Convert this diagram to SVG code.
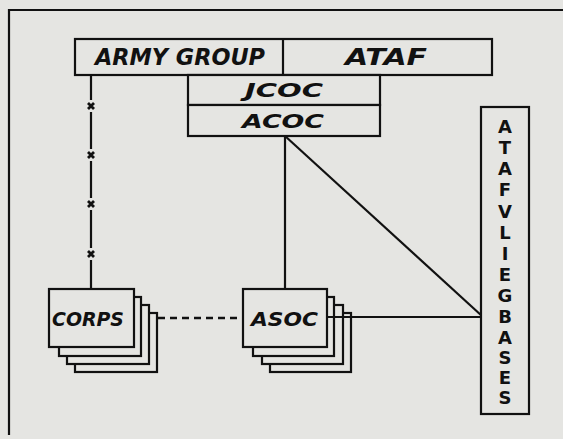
<svg xmlns="http://www.w3.org/2000/svg" width="563" height="439" viewBox="0 0 563 439">
<style>
.bg{fill:#e5e5e2}
.box{fill:#e5e5e2;stroke:#111;stroke-width:2.2}
.ln{fill:none;stroke:#111;stroke-width:2.2}
.dash{fill:none;stroke:#111;stroke-width:2.4;stroke-dasharray:7 5}
.lbl{font-family:"DejaVu Sans",sans-serif;font-weight:bold;font-style:oblique;fill:#111}
.vt{font-family:"DejaVu Sans",sans-serif;font-weight:bold;fill:#111;font-size:18px;text-anchor:middle}
.xm{fill:none;stroke:#111;stroke-width:2.8}
</style>
<rect class="bg" x="0" y="0" width="563" height="439"/>
<g id="frame">
<path class="ln" d="M9,435 V10 H563" stroke-width="2.6"/>
</g>
<g id="connectors">
<path class="ln" d="M91,75 V100 M91,112 V149 M91,161 V198 M91,210 V248 M91,260 V289"/>
<path class="xm" d="M88,103 l6,6 M94,103 l-6,6 M88,152 l6,6 M94,152 l-6,6 M88,201 l6,6 M94,201 l-6,6 M88,251 l6,6 M94,251 l-6,6"/>
<path class="ln" d="M285,136 V289"/>
<path class="ln" d="M285,136 L482,316"/>
<path class="dash" d="M134,318 H243"/>
</g>
<g id="armygroup-ataf">
<rect class="box" x="75" y="39" width="417" height="36"/>
<line class="ln" x1="283" y1="39" x2="283" y2="75"/>
<text class="lbl" x="95" y="65" font-size="23" textLength="170" lengthAdjust="spacingAndGlyphs">ARMY GROUP</text>
<text class="lbl" x="345" y="65" font-size="23" textLength="82" lengthAdjust="spacingAndGlyphs">ATAF</text>
</g>
<g id="jcoc">
<rect class="box" x="188" y="75" width="192" height="30"/>
<text class="lbl" x="245" y="97" font-size="19" textLength="78" lengthAdjust="spacingAndGlyphs">JCOC</text>
</g>
<g id="acoc">
<rect class="box" x="188" y="105" width="192" height="31"/>
<text class="lbl" x="242" y="128" font-size="19" textLength="82" lengthAdjust="spacingAndGlyphs">ACOC</text>
</g>
<g id="corps">
<rect class="box" x="75" y="313" width="82" height="59"/>
<rect class="box" x="67" y="305" width="82" height="59"/>
<rect class="box" x="59" y="297" width="82" height="59"/>
<rect class="box" x="49" y="289" width="85" height="58"/>
<text class="lbl" x="52" y="326" font-size="20" textLength="72" lengthAdjust="spacingAndGlyphs">CORPS</text>
</g>
<g id="asoc">
<rect class="box" x="270" y="313" width="81" height="59"/>
<rect class="box" x="262" y="305" width="81" height="59"/>
<rect class="box" x="253" y="297" width="81" height="59"/>
<rect class="box" x="243" y="289" width="84" height="58"/>
<text class="lbl" x="251" y="326" font-size="20" textLength="67" lengthAdjust="spacingAndGlyphs">ASOC</text>
</g>
<g id="asoc-link">
<path class="ln" d="M327,317 H482"/>
</g>
<g id="ataf-vliegbases">
<rect class="box" x="481" y="107" width="48" height="307"/>
<text class="vt" x="505" y="133">A</text>
<text class="vt" x="505" y="154">T</text>
<text class="vt" x="505" y="175">A</text>
<text class="vt" x="505" y="196">F</text>
<text class="vt" x="505" y="218">V</text>
<text class="vt" x="505" y="239">L</text>
<text class="vt" x="505" y="260">I</text>
<text class="vt" x="505" y="281">E</text>
<text class="vt" x="505" y="302">G</text>
<text class="vt" x="505" y="323">B</text>
<text class="vt" x="505" y="344">A</text>
<text class="vt" x="505" y="364">S</text>
<text class="vt" x="505" y="384">E</text>
<text class="vt" x="505" y="404">S</text>
</g>
</svg>
